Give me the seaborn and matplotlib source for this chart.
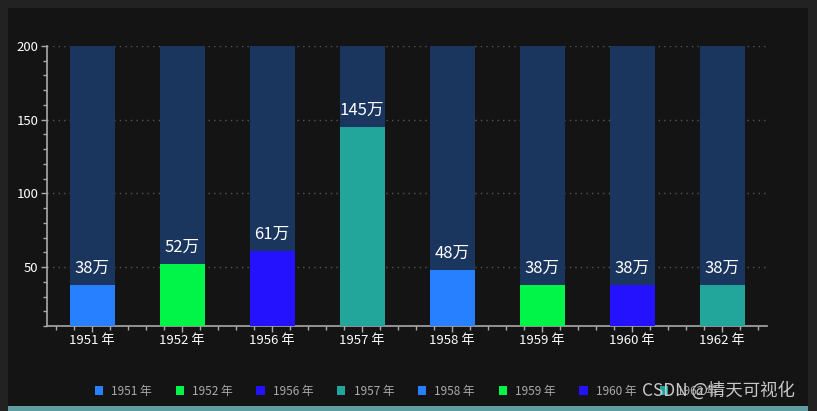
import matplotlib
matplotlib.use("Agg")
import matplotlib.pyplot as plt
from matplotlib.patches import Rectangle, Patch
from matplotlib.ticker import MultipleLocator
import pandas as pd
import seaborn as sns

sns.set_style("dark")
plt.rcParams['font.family'] = ['Noto Sans CJK SC', 'DejaVu Sans']

#--------------------------------------------------------------------------------------------------
# data
years = ['1951 年', '1952 年', '1956 年', '1957 年', '1958 年', '1959 年', '1960 年', '1962 年']
values = [38, 52, 61, 145, 48, 38, 38, 38]
back_max = [200, 200, 200, 200, 200, 200, 200, 200]
palette = ['#2680ff', '#00f548', '#2412ff', '#22a59a', '#2680ff', '#00f548', '#2412ff', '#22a59a']

df = pd.DataFrame({"year": years, "value": values, "max": back_max})

fig = plt.figure(figsize=(8.17, 4.11), dpi=100)
fig.patch.set_facecolor('#222222')
# inner dark panel and teal strip at the bottom
fig.patches.append(Rectangle((8 / 817, 5 / 411), 800 / 817, 398 / 411, transform=fig.transFigure,
                             facecolor='#141414', edgecolor='none', zorder=-10))
fig.patches.append(Rectangle((8 / 817, 0), 800 / 817, 5 / 411, transform=fig.transFigure,
                             facecolor='#5f9ea0', edgecolor='none', zorder=-10))

ax = fig.add_axes([47 / 817, 1 - 326 / 411, 720 / 817, 280 / 411])
ax.set_facecolor('#141414')

sns.barplot(data=df, x="year", y="max", color='#1a355e', saturation=1, width=0.5,
            linewidth=0, ax=ax, zorder=2)
sns.barplot(data=df, x="year", y="value", hue="year", palette=palette, saturation=1,
            width=0.5, linewidth=0, legend=False, ax=ax, zorder=3)

for i, v in enumerate(values):
    ax.annotate(str(v) + "万", (i, v), xytext=(0, 6), textcoords="offset points",
                ha="center", va="bottom", color="white", fontsize=12, zorder=5)

ax.set_ylim(10, 200)
ax.set_xlim(-0.5, 7.5)
ax.yaxis.set_major_locator(MultipleLocator(50))
ax.yaxis.set_minor_locator(MultipleLocator(10))
ax.xaxis.set_minor_locator(MultipleLocator(0.2))
ax.set_yticks([50, 100, 150, 200])
ax.grid(axis='y', color='#555555', linestyle=(0, (1, 3)), linewidth=1, zorder=1)
ax.grid(axis='x', visible=False)
ax.set_axisbelow(True)

for s in ['top', 'right']:
    ax.spines[s].set_visible(False)
for s in ['left', 'bottom']:
    ax.spines[s].set_color('#aaaaaa')
    ax.spines[s].set_linewidth(1.2)

ax.tick_params(axis='both', which='major', colors='white', labelsize=9.5, length=4, width=1,
               direction='out', bottom=True, left=True)
ax.tick_params(axis='both', which='minor', color='#aaaaaa', length=3, width=1,
               direction='out', bottom=True, left=True)
ax.tick_params(axis='x', which='major', color='#aaaaaa', pad=2)
ax.tick_params(axis='y', which='major', color='#aaaaaa', pad=2)
ax.set_xlabel("")
ax.set_ylabel("")

handles = [Patch(facecolor=c, edgecolor='none', label=y) for c, y in zip(palette, years)]
leg = fig.legend(handles=handles, loc='center', bbox_to_anchor=(406 / 817, 1 - 391 / 411), ncol=8,
                 frameon=False, fontsize=8.5, handlelength=0.7, handleheight=0.7,
                 handletextpad=0.7, columnspacing=2.0, labelcolor='#aaaaaa')

fig.text(718 / 817, 1 - 390 / 411, "CSDN @情天可视化", ha='center', va='center',
         color='#c8c8c8', fontsize=12.5, zorder=10)

fig.savefig("out.png", dpi=100, facecolor=fig.get_facecolor())
